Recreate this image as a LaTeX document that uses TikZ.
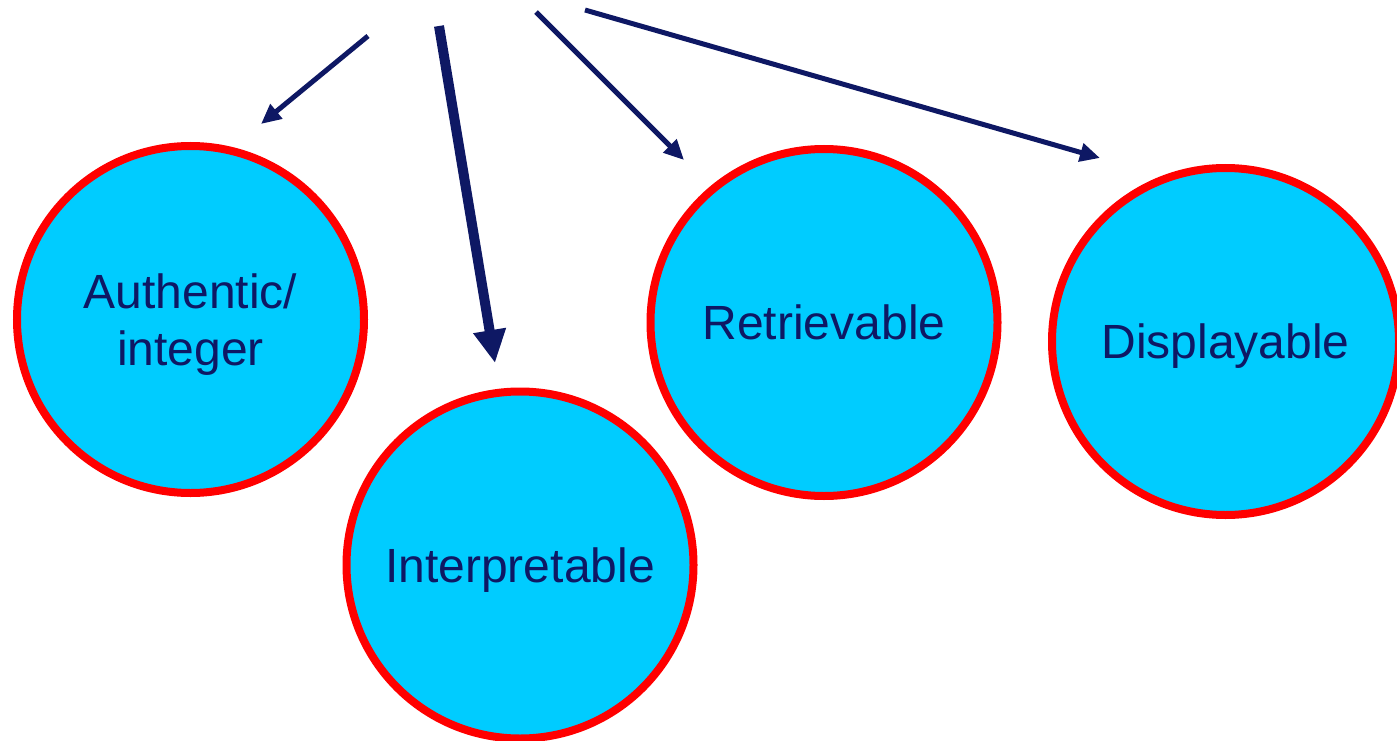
\documentclass[tikz,border=0pt]{standalone}
\usepackage{fontspec}
\setmainfont{Liberation Sans}
\usetikzlibrary{arrows.meta}
\definecolor{navy}{RGB}{14,24,100}
\definecolor{cyanfill}{RGB}{0,204,255}
\definecolor{redline}{RGB}{255,0,0}
\tikzset{
  bubble/.style={circle, draw=redline, line width=8pt, fill=cyanfill, minimum size=347pt, inner sep=0pt, text=navy, align=center, text depth=0pt, font=\fontsize{48}{57}\selectfont},
  thinarrow/.style={draw=navy, line width=5pt, -{Triangle[length=20pt,width=18pt]}},
  thickarrow/.style={draw=navy, line width=10pt, -{Triangle[length=33pt,width=31pt]}}
}
\begin{document}
\begin{tikzpicture}[x=1pt,y=-1pt]
\useasboundingbox (0,0) rectangle (1397,741);
\node[bubble] (auth) at (190.5,319.5) {Authentic/\\integer};
\node[bubble] (interp) at (520,565) {Interpretable};
\node[bubble] (retr) at (824,322.5) {Retrievable};
\node[bubble] (disp) at (1225.5,341.5) {Displayable};
\coordinate (s1) at (368,36);
\coordinate (e1) at (261,124);
\coordinate (s2) at (439,26);
\coordinate (e2) at (495,363);
\coordinate (s3) at (536,12);
\coordinate (e3) at (684,160);
\coordinate (s4) at (585,10);
\coordinate (e4) at (1100,158);
\draw[thinarrow] (s1) -- (e1);
\draw[thickarrow] (s2) -- (e2);
\draw[thinarrow] (s3) -- (e3);
\draw[thinarrow] (s4) -- (e4);
\end{tikzpicture}
\end{document}
